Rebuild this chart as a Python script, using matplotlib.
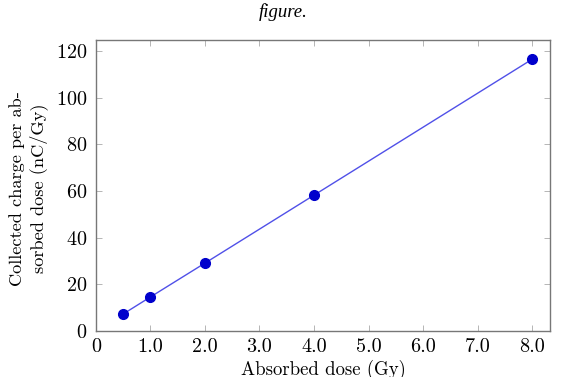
import numpy as np
from matplotlib import pyplot as plt

plt.rcParams['font.family'] = 'serif'
plt.rcParams['font.serif'] = ['cmr10', 'DejaVu Serif']
plt.rcParams['axes.formatter.use_mathtext'] = True

# data
dose = [0.5, 1.0, 2.0, 4.0, 8.0]
charge = [7.3, 14.6, 29.1, 58.2, 116.4]
xticks = [0, 1, 2, 3, 4, 5, 6, 7, 8]
xlabels = ['0', '1.0', '2.0', '3.0', '4.0', '5.0', '6.0', '7.0', '8.0']
yticks = [0, 20, 40, 60, 80, 100, 120]

fig = plt.figure(figsize=(5.7, 3.77), dpi=100)
ax = fig.add_axes([0.1684, 0.122, 0.7965, 0.772])

ax.plot(dose, charge, color='#5050e8', lw=1.0, zorder=2)
ax.plot(dose, charge, 'o', color='#0000cc', ms=7, zorder=3)

ax.set_xlim(0, 8.33)
ax.set_ylim(0, 124.7)
ax.set_xticks(xticks)
ax.set_xticklabels(xlabels)
ax.set_yticks(yticks)
ax.tick_params(direction='in', top=True, right=True, length=4, width=0.6,
               color='#aaaaaa', labelsize=14.5)
ax.tick_params(axis='x', pad=5)
ax.tick_params(axis='y', pad=6)
for s in ax.spines.values():
    s.set_color('#777777')
    s.set_linewidth(1.0)

ax.set_xlabel('Absorbed dose (Gy)', fontsize=13.5)
ax.xaxis.set_label_coords(0.5, -0.10)
ax.set_ylabel('Collected charge per ab-\nsorbed dose (nC/Gy)', fontsize=13.2,
              linespacing=1.3)
ax.yaxis.set_label_coords(-0.106, 0.49)

fig.text(0.497, 0.968, 'figure.', fontsize=13.5, style='italic',
         family='Liberation Serif', ha='center', va='center')

fig.savefig('out.png', dpi=100)
